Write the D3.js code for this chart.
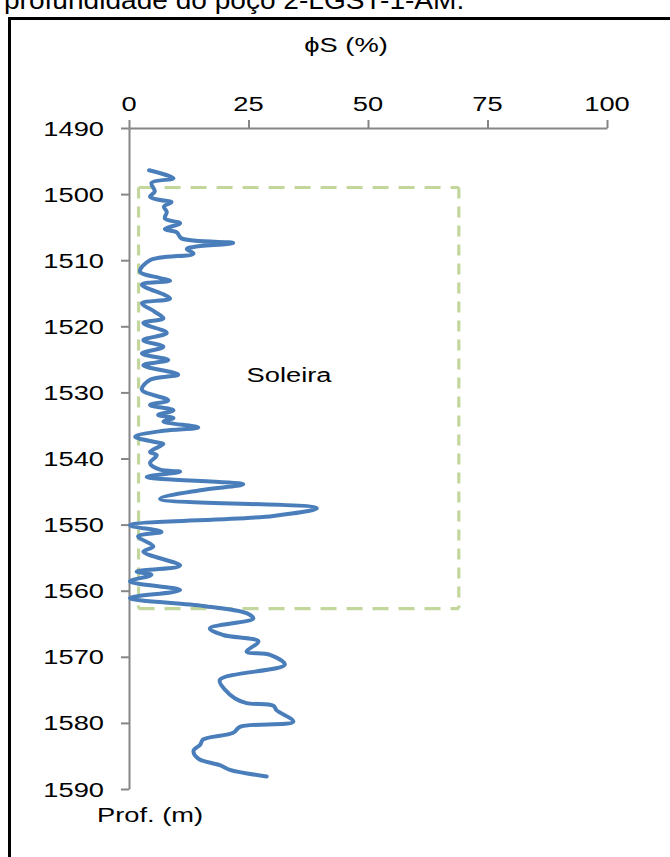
<!DOCTYPE html>
<html>
<head>
<meta charset="utf-8">
<script src="https://cdn.jsdelivr.net/npm/d3@7"></script>
<style>
  html, body { margin: 0; padding: 0; background: #fff; }
  svg { display: block; }
  text { font-family: "Liberation Sans", Arial, sans-serif; fill: #000; }
</style>
</head>
<body>
<svg id="chart" width="670" height="857"></svg>
<script>
// Porosity log (ϕS, %) against depth (m)
const depth = [
  1496.4, 1497.6, 1498.3, 1499.6, 1500.4, 1500.9, 1501.2, 1501.9, 1502.7, 1503.7,
  1504.4, 1505.3, 1505.8, 1506.7, 1507.4, 1508.0, 1508.3, 1509.0, 1510.0, 1511.7,
  1512.7, 1513.1, 1513.7, 1515.8, 1516.5, 1517.8, 1518.8, 1519.5, 1521.0, 1522.1,
  1523.1, 1524.1, 1525.1, 1525.9, 1527.3, 1528.1, 1529.6, 1531.2, 1531.9, 1532.7,
  1533.4, 1533.9, 1534.4, 1535.3, 1535.8, 1536.7, 1537.5, 1537.8, 1539.0, 1539.5,
  1540.7, 1541.7, 1542.0, 1542.8, 1543.9, 1544.8, 1546.1, 1547.5, 1548.7, 1550.1,
  1551.1, 1551.8, 1553.3, 1554.1, 1556.2, 1557.1, 1557.6, 1558.6, 1559.9, 1561.1,
  1562.3, 1563.4, 1564.2, 1565.7, 1566.7, 1567.7, 1569.2, 1569.7, 1571.2, 1573.5,
  1575.0, 1576.3, 1577.0, 1577.4, 1578.1, 1579.8, 1580.6, 1581.5, 1582.5, 1583.3,
  1584.2, 1585.4, 1586.4, 1587.1, 1588.1
];
const phiS = [
  4.2, 9.3, 4.7, 5.4, 4.4, 6.5, 8.9, 7.3, 7.9, 7.5,
  10.7, 7.5, 10.0, 11.0, 21.8, 13.5, 12.1, 13.5, 4.4, 2.3,
  6.5, 8.6, 2.7, 8.6, 2.7, 5.4, 7.2, 3.0, 7.9, 3.0,
  7.2, 2.7, 8.2, 3.0, 10.3, 4.4, 2.7, 8.2, 4.4, 9.3,
  6.1, 9.3, 7.2, 14.5, 7.2, 1.3, 5.4, 7.2, 4.4, 5.8,
  4.4, 6.5, 10.7, 3.7, 23.9, 14.9, 6.5, 39.3, 30.2, 0.2,
  6.8, 1.9, 5.1, 3.0, 10.7, 1.6, 4.7, 0.2, 10.7, 0.2,
  15.5, 24.6, 26.0, 16.9, 19.7, 27.1, 24.6, 29.5, 32.6, 19.0,
  20.1, 22.2, 24.6, 30.2, 30.9, 34.4, 23.2, 21.8, 15.5, 14.9,
  13.5, 14.5, 19.0, 21.1, 28.8
];

// Axis ticks and labels
const xTicks = [0, 25, 50, 75, 100];
const yTicks = [1490, 1500, 1510, 1520, 1530, 1540, 1550, 1560, 1570, 1580, 1590];
const xTitle = "ϕS (%)";
const yTitle = "Prof. (m)";
const heading = "profundidade do poço 2-LGST-1-AM.";

// Sill interval (Soleira) outlined by the dashed box
const sillLabel = "Soleira";
const sillPhi = [2, 69];
const sillDepth = [1499, 1562.7];

const svg = d3.select("#chart");
const stretch = 1.3;            // labels are drawn horizontally widened
const fs = 21;

const x = d3.scaleLinear().domain([0, 100]).range([129, 607]);
const y = d3.scaleLinear().domain([1490, 1590]).range([128, 789]);

// outer frame and heading (the heading continues above the frame)
svg.append("rect")
  .attr("x", 9.5).attr("y", 18.5)
  .attr("width", 700).attr("height", 900)
  .attr("fill", "none").attr("stroke", "#000").attr("stroke-width", 3);

svg.append("text")
  .attr("font-size", 26)
  .attr("transform", "translate(4,9) scale(1.08,1)")
  .text(heading);

// dashed sill box
const box = svg.append("g")
  .attr("stroke", "#c3d69b").attr("stroke-width", 3.2).attr("fill", "none");
const bx0 = x(sillPhi[0]), bx1 = x(sillPhi[1]);
const by0 = y(sillDepth[0]), by1 = y(sillDepth[1]);
box.append("line").attr("x1", bx0).attr("x2", bx1).attr("y1", by0).attr("y2", by0)
  .attr("stroke-dasharray", "16,10");
box.append("line").attr("x1", bx0).attr("x2", bx1).attr("y1", by1).attr("y2", by1)
  .attr("stroke-dasharray", "16,10");
box.append("line").attr("x1", bx0).attr("x2", bx0).attr("y1", by0).attr("y2", by1)
  .attr("stroke-dasharray", "11,8");
box.append("line").attr("x1", bx1).attr("x2", bx1).attr("y1", by0).attr("y2", by1)
  .attr("stroke-dasharray", "11,8");

// axes
const axisColor = "#868686";
const gx = svg.append("g").attr("transform", `translate(0,${y(1490)})`)
  .call(d3.axisTop(x).tickValues(xTicks).tickSize(8).tickSizeOuter(0).tickFormat(""));
const gy = svg.append("g").attr("transform", `translate(${x(0)},0)`)
  .call(d3.axisLeft(y).tickValues(yTicks).tickSize(8).tickSizeOuter(0).tickFormat(""));
[gx, gy].forEach(g => {
  g.selectAll("path, line").attr("stroke", axisColor).attr("stroke-width", 2);
});

// tick labels (widened text)
svg.append("g").selectAll("text").data(xTicks).join("text")
  .attr("text-anchor", "middle")
  .attr("font-size", fs)
  .attr("transform", d => `translate(${x(d)},111) scale(${stretch},1)`)
  .text(d => d);
svg.append("g").selectAll("text").data(yTicks).join("text")
  .attr("text-anchor", "end")
  .attr("font-size", fs)
  .attr("transform", d => `translate(104,${y(d) + 7.5}) scale(${stretch},1)`)
  .text(d => d);

// axis titles and annotation
svg.append("text").attr("text-anchor", "middle").attr("font-size", fs)
  .attr("transform", `translate(346,52) scale(${stretch},1)`).text(xTitle);
svg.append("text").attr("text-anchor", "middle").attr("font-size", fs)
  .attr("transform", `translate(150,822) scale(${stretch},1)`).text(yTitle);
svg.append("text").attr("text-anchor", "middle").attr("font-size", fs)
  .attr("transform", `translate(289,382) scale(${stretch},1)`).text(sillLabel);

// porosity curve
const pts = depth.map((d, i) => [phiS[i], d]);
const line = d3.line()
  .x(p => x(p[0]))
  .y(p => y(p[1]))
  .curve(d3.curveCatmullRom.alpha(0.5));
svg.append("path")
  .datum(pts)
  .attr("d", line)
  .attr("fill", "none")
  .attr("stroke", "#4a7ebb")
  .attr("stroke-width", 4)
  .attr("stroke-linejoin", "round")
  .attr("stroke-linecap", "round");
</script>
</body>
</html>
